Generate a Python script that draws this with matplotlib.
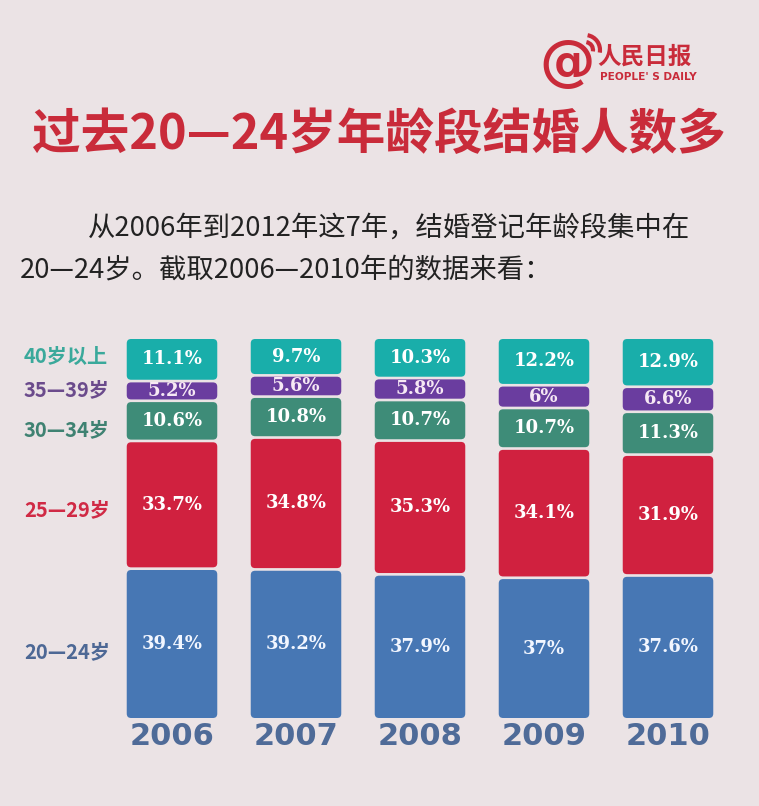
import matplotlib
matplotlib.use("Agg")
import matplotlib.pyplot as plt
from matplotlib.patches import FancyBboxPatch, Arc
import numpy as np

# ---------------- data ----------------
years = ["2006", "2007", "2008", "2009", "2010"]
groups = ["20—24岁", "25—29岁", "30—34岁", "35—39岁", "40岁以上"]  # bottom -> top
v_20_24 = [39.4, 39.2, 37.9, 37, 37.6]
v_25_29 = [33.7, 34.8, 35.3, 34.1, 31.9]
v_30_34 = [10.6, 10.8, 10.7, 10.7, 11.3]
v_35_39 = [5.2, 5.6, 5.8, 6, 6.6]
v_40_up = [11.1, 9.7, 10.3, 12.2, 12.9]
series = [v_20_24, v_25_29, v_30_34, v_35_39, v_40_up]

title = "过去20—24岁年龄段结婚人数多"
sub1 = "从2006年到2012年这7年，结婚登记年龄段集中在"
sub2 = "20—24岁。截取2006—2010年的数据来看："

# ---------------- style ----------------
BG = "#ebe3e5"
seg_colors = ["#4777b4", "#d0213f", "#3e8c78", "#6a3d9f", "#19aeaa"]
lab_colors = ["#4d6895", "#d02a45", "#3f8272", "#6b4b8c", "#3aa99b"]
text_colors = ["#f2f6ff", "#ffffff", "#ffffff", "#f6e8f4", "#ffffff"]
RED = "#c92b3a"
YEAR_C = "#4f6b98"

plt.rcParams['font.family'] = ['Noto Sans CJK SC', 'DejaVu Sans']

W, H = 759, 806
fig = plt.figure(figsize=(W / 100, H / 100), dpi=100)
fig.patch.set_facecolor(BG)

# overlay for decorations (pixel coords)
deco = fig.add_axes([0, 0, 1, 1])
deco.set_xlim(0, W)
deco.set_ylim(H, 0)
deco.axis("off")
deco.patch.set_alpha(0)

# main bar axes
ax = fig.add_axes([110 / W, 1 - 718 / H, 620 / W, 379 / H])
ax.set_xlim(-0.5, 4.5)
ax.set_ylim(0, 100)
ax.axis("off")
ax.patch.set_alpha(0)

x = np.arange(len(years))
bw = 0.73
gap = 0.35
px_x = 620 / 5.0
px_y = 379 / 100.0
aspect = px_x / px_y
bottom = np.zeros(len(years))
for si, vals in enumerate(series):
    vals = np.array(vals, dtype=float)
    for i in range(len(years)):
        b = bottom[i]
        h = vals[i]
        lo = b + (gap if si > 0 else 0)
        hi = b + h - (gap if si < len(series) - 1 else 0)
        if si == len(series) - 1:
            hi = 100.0
        p = FancyBboxPatch((x[i] - bw / 2, lo), bw, hi - lo,
                           boxstyle="round,pad=0,rounding_size=0.035",
                           mutation_aspect=aspect,
                           facecolor=seg_colors[si], edgecolor="none")
        ax.add_patch(p)
        ax.text(x[i], (lo + hi) / 2, "{:g}%".format(vals[i]),
                ha="center", va="center", color=text_colors[si],
                fontsize=13, fontweight="bold", family="DejaVu Serif")
    bottom += vals

# year labels
for i, yr in enumerate(years):
    ax.text(x[i], -5.0, yr, ha="center", va="center", color=YEAR_C,
            fontsize=22, fontweight="bold", family="DejaVu Sans")

# left group labels
lab_y = [652, 510, 430, 390, 356]
for g, c, yy in zip(groups, lab_colors, lab_y):
    fig.text(24 / W, 1 - yy / H, g, ha="left", va="center", color=c,
             fontsize=14.5, fontweight="bold")

# title & subtitle
fig.text(379 / W, 1 - 135 / H, title, ha="center", va="center", color=RED,
         fontsize=35, fontweight="black")
fig.text(88 / W, 1 - 228 / H, sub1, ha="left", va="center", color="#222222",
         fontsize=19.7)
fig.text(20 / W, 1 - 270 / H, sub2, ha="left", va="center", color="#222222",
         fontsize=19.7)

# logo
deco.text(567, 64, "@", ha="center", va="center", color=RED, fontsize=40,
          fontweight="bold", family="DejaVu Sans")
for r in (8, 15):
    deco.add_patch(Arc((585, 50), 2 * r, 2 * r, theta1=-80, theta2=10,
                       color=RED, lw=3))
deco.text(597, 57, "人民日报", ha="left", va="center", color=RED,
          fontsize=17, fontweight="black")
deco.text(600, 77, "PEOPLE' S DAILY", ha="left", va="center", color=RED,
          fontsize=7.6, fontweight="bold", family="DejaVu Sans")

fig.savefig("out.png", dpi=100, facecolor=BG)
